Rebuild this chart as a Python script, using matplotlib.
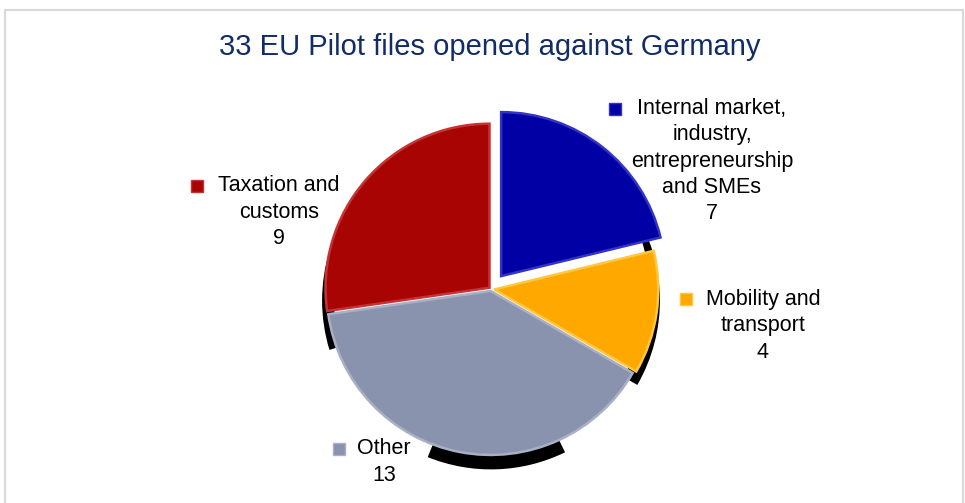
import numpy as np
import matplotlib
matplotlib.use("Agg")
import matplotlib.pyplot as plt
from matplotlib.patches import Rectangle, Wedge, Circle

# data
categories = ["Internal market,\nindustry,\nentrepreneurship\nand SMEs",
              "Mobility and\ntransport",
              "Other",
              "Taxation and\ncustoms"]
values = [7, 4, 13, 9]
colors = ["#0000A4", "#FFA800", "#8A93AD", "#A80404"]
edge_colors = ["#3434C4", "#FFC640", "#A9B0C6", "#C43434"]
title = "33 EU Pilot files opened against Germany"

# layout (pixel positions in the 965x503 picture)
W, H = 965, 503
CX, CY, R = 491, 289, 164
label_pos = [(712, 161), (763, 326), (384, 462), (279, 212)]
marker_pos = [(615, 109), (686, 299), (339, 449), (197, 186)]
explode = [0.1, 0.02, 0.012, 0.012]


def px(x, y):
    return (x - CX) / R, (CY - y) / R


plt.rcParams['font.family'] = ['Liberation Sans', 'DejaVu Sans']

fig = plt.figure(figsize=(W / 100, H / 100), dpi=100)
ax = fig.add_axes([0, 0, 1, 1])

# black "3D" shadow visible round the rim
for t1, t2 in [(163, 197), (248, 296), (-30, 32)]:
    ax.add_patch(Wedge((0.0, -0.07), 1.03, t1, t2, facecolor="black",
                       edgecolor="none", zorder=1))
ax.add_patch(Circle((0, 0), 0.965, facecolor="white", edgecolor="none",
                    zorder=2))

wedges, _ = ax.pie(values, colors=colors, startangle=90, counterclock=False,
                   explode=explode, radius=1.0, center=(0, 0),
                   wedgeprops=dict(linewidth=1.8, zorder=3))
for w, ec in zip(wedges, edge_colors):
    w.set_edgecolor(ec)
    w.set_zorder(3)

for cat, val, col, ec, (lx, ly), (mx, my) in zip(categories, values, colors,
                                                 edge_colors, label_pos,
                                                 marker_pos):
    x, y = px(lx, ly)
    ax.text(x, y, f"{cat}\n{val}", ha="center", va="center",
            multialignment="center", fontsize=15.5, color="black",
            linespacing=1.32, zorder=5)
    x, y = px(mx, my)
    ax.plot([x], [y], marker="s", markersize=8, markerfacecolor=col,
            markeredgecolor=ec, markeredgewidth=1.0, zorder=5)

x, y = px(490, 47)
ax.text(x, y, title, ha="center", va="center", fontsize=21,
        color="#122C66")

ax.set_xlim(-CX / R, (W - CX) / R)
ax.set_ylim(-(H - CY) / R, CY / R)
ax.set_aspect("auto")
ax.axis("off")

fig.patches.append(Rectangle((5 / W, -0.02), (963 - 5) / W,
                             (H - 10) / H + 0.02, fill=False,
                             edgecolor="#D9D9D9", linewidth=1.5,
                             transform=fig.transFigure, figure=fig))

fig.savefig("out.png", dpi=100, facecolor="white")
